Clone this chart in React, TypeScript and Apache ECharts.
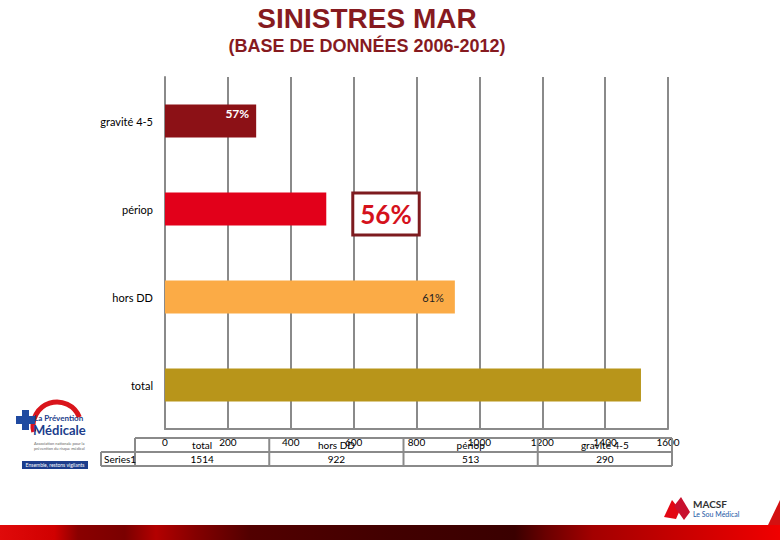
import React, { useEffect, useRef } from "react";
import * as echarts from "echarts";

const categories = ["total", "hors DD", "périop", "gravité 4-5"];
const values = [1514, 922, 513, 290];
const pctLabels = ["", "61%", "56%", "57%"];
const barColors = ["#b8951a", "#fbab46", "#e2001a", "#8c1116"];
const seriesName = "Series1";
const xMin = 0;
const xMax = 1600;
const xInterval = 200;

const titleText = "SINISTRES MAR";
const subtitleText = "(BASE DE DONNÉES 2006-2012)";

const gridColor = "#8a8a8a";
const dark = "#861a1f";

function labelFor(i: number): any {
  const t = pctLabels[i];
  if (!t) return { show: false };
  if (i === 3)
    return {
      show: true, position: "insideRight", distance: 7, offset: [0, -8], formatter: t,
      color: "#fff", fontSize: 12, fontWeight: "bold", fontFamily: "Lato",
    };
  if (i === 2)
    return {
      show: true, position: "right", distance: 28, offset: [0, 5], formatter: t,
      color: "#d5121c", fontSize: 26, fontWeight: "bold", fontFamily: "Lato",
      backgroundColor: "#fff", borderColor: "#7d1b1f", borderWidth: 3, padding: [7, 6, 6, 6],
    };
  return {
    show: true, position: "insideRight", distance: 11, formatter: t,
    color: "#222", fontSize: 11, fontFamily: "Lato",
  };
}

function tableGraphics(): any[] {
  const out: any[] = [];
  const x0 = 135, x1 = 672, xs = 101;
  const yTop = 438, yMid = 452, yBot = 466;
  const n = categories.length;
  const cw = (x1 - x0) / n;
  const ls = { stroke: gridColor, lineWidth: 2 };
  out.push({ type: "line", shape: { x1: x0, y1: yTop, x2: x1, y2: yTop }, style: ls, z: 1 });
  out.push({ type: "line", shape: { x1: xs, y1: yMid, x2: x1, y2: yMid }, style: ls, z: 1 });
  out.push({ type: "line", shape: { x1: xs, y1: yBot, x2: x1, y2: yBot }, style: ls, z: 1 });
  out.push({ type: "line", shape: { x1: xs, y1: yMid, x2: xs, y2: yBot }, style: ls, z: 1 });
  for (let i = 0; i <= n; i++) {
    const x = x0 + i * cw;
    out.push({ type: "line", shape: { x1: x, y1: yTop, x2: x, y2: yBot }, style: ls, z: 1 });
  }
  for (let i = 0; i < n; i++) {
    const cx = x0 + (i + 0.5) * cw;
    out.push({
      type: "text", x: cx, y: yTop + 7, z: 2,
      style: { text: categories[i], fill: "#000", font: "10px Lato", textAlign: "center", textVerticalAlign: "middle", align: "center", verticalAlign: "middle" },
    });
    out.push({
      type: "text", x: cx, y: yMid + 7, z: 2,
      style: { text: String(values[i]), fill: "#000", font: "10px Lato", textAlign: "center", textVerticalAlign: "middle", align: "center", verticalAlign: "middle" },
    });
  }
  out.push({
    type: "text", x: xs + 3, y: yMid + 7, z: 2,
    style: { text: seriesName, fill: "#000", font: "10px Lato", textAlign: "left", textVerticalAlign: "middle", align: "left", verticalAlign: "middle" },
  });
  return out;
}

function decorGraphics(): any[] {
  const ctr = { textAlign: "center", textVerticalAlign: "middle", align: "center", verticalAlign: "middle" };
  const lft = { textAlign: "left", textVerticalAlign: "middle", align: "left", verticalAlign: "middle" };
  return [
    {
      type: "text", x: 367, y: 18, scaleX: 1.0,
      style: { text: titleText, fill: dark, font: 'bold 28px "Liberation Sans"', ...ctr },
    },
    {
      type: "text", x: 367, y: 46, scaleX: 1.0,
      style: { text: subtitleText, fill: dark, font: 'bold 18px "Liberation Sans"', ...ctr },
    },
    // La Prévention Médicale logo
    {
      type: "arc", shape: { cx: 57, cy: 426, r: 24, startAngle: Math.PI * 0.92, endAngle: Math.PI * 1.88, clockwise: true },
      style: { stroke: "#d9141b", lineWidth: 5, fill: "none" },
    },
    { type: "rect", shape: { x: 22, y: 410, width: 7, height: 20 }, style: { fill: "#1f4aa0" } },
    { type: "rect", shape: { x: 16, y: 416, width: 19, height: 8 }, style: { fill: "#1f4aa0" } },
    { type: "text", x: 34, y: 418, style: { text: "La Prévention", fill: "#1c3d8c", font: "bold 8px Lato", ...lft } },
    { type: "text", x: 33, y: 430, style: { text: "Médicale", fill: "#1c3d8c", font: "bold 13px Lato", ...lft } },
    { type: "text", x: 34, y: 443, style: { text: "Association nationale pour la", fill: "#666", font: "4px Lato", ...lft } },
    { type: "text", x: 34, y: 448, style: { text: "prévention du risque médical", fill: "#666", font: "4px Lato", ...lft } },
    { type: "rect", shape: { x: 22, y: 461, width: 66, height: 8 }, style: { fill: "#1c3d8c" } },
    { type: "text", x: 55, y: 465, style: { text: "Ensemble, restons vigilants", fill: "#fff", font: "5px Lato", ...ctr } },
    // MACSF logo
    { type: "polygon", shape: { points: [[664, 517], [672, 500], [680, 510], [676, 519]] }, style: { fill: "#e30613" } },
    { type: "polygon", shape: { points: [[674, 506], [681, 497], [690, 512], [684, 520]] }, style: { fill: "#c8102e" } },
    { type: "text", x: 693, y: 504, style: { text: "MACSF", fill: "#333", font: "bold 10px Lato", ...lft } },
    { type: "text", x: 693, y: 514, style: { text: "Le Sou Médical", fill: "#1d58a6", font: "7px Lato", ...lft } },
    { type: "polygon", shape: { points: [[768, 525], [780, 500], [780, 525]] }, style: { fill: "#d41010" } },
    // bottom band
    {
      type: "rect", shape: { x: 0, y: 525, width: 780, height: 15 },
      style: {
        fill: new echarts.graphic.LinearGradient(0, 0, 1, 0, [
          { offset: 0, color: "#e00a0a" },
          { offset: 0.07, color: "#d00000" },
          { offset: 0.1, color: "#8a0000" },
          { offset: 0.16, color: "#7a0000" },
          { offset: 0.2, color: "#b30000" },
          { offset: 0.25, color: "#850000" },
          { offset: 0.32, color: "#520000" },
          { offset: 0.5, color: "#420000" },
          { offset: 0.66, color: "#3a0000" },
          { offset: 0.7, color: "#6a0000" },
          { offset: 0.76, color: "#a30000" },
          { offset: 0.86, color: "#c40000" },
          { offset: 1, color: "#f00000" },
        ]),
      },
    },
  ];
}

export default function App() {
  const ref = useRef<HTMLDivElement>(null);
  useEffect(() => {
    if (!ref.current) return;
    const chart = echarts.init(ref.current, undefined, { renderer: "svg" });
    chart.setOption({
      animation: false,
      backgroundColor: "#fff",
      grid: { left: 165, right: 112, top: 77, bottom: 111, containLabel: false },
      xAxis: {
        type: "value", min: xMin, max: xMax, interval: xInterval,
        axisLine: { show: true, lineStyle: { color: gridColor, width: 2 } },
        axisTick: { show: false },
        splitLine: { show: true, lineStyle: { color: gridColor, width: 2 } },
        axisLabel: { color: "#000", fontSize: 10, fontFamily: "Lato", margin: 8, formatter: (v: number) => String(v) },
      },
      yAxis: {
        type: "category", data: categories,
        axisLine: { show: true, lineStyle: { color: gridColor, width: 2 } },
        axisTick: { show: false },
        axisLabel: { color: "#000", fontSize: 11, fontFamily: "Lato", margin: 12 },
      },
      series: [
        {
          name: seriesName, type: "bar", barWidth: 33,
          data: values.map((v, i) => ({ value: v, itemStyle: { color: barColors[i] }, label: labelFor(i) })),
        },
      ],
      graphic: [...tableGraphics(), ...decorGraphics()],
    });
    return () => chart.dispose();
  }, []);
  return <div ref={ref} style={{ position: "fixed", left: 0, top: 0, width: 780, height: 540 }} />;
}
